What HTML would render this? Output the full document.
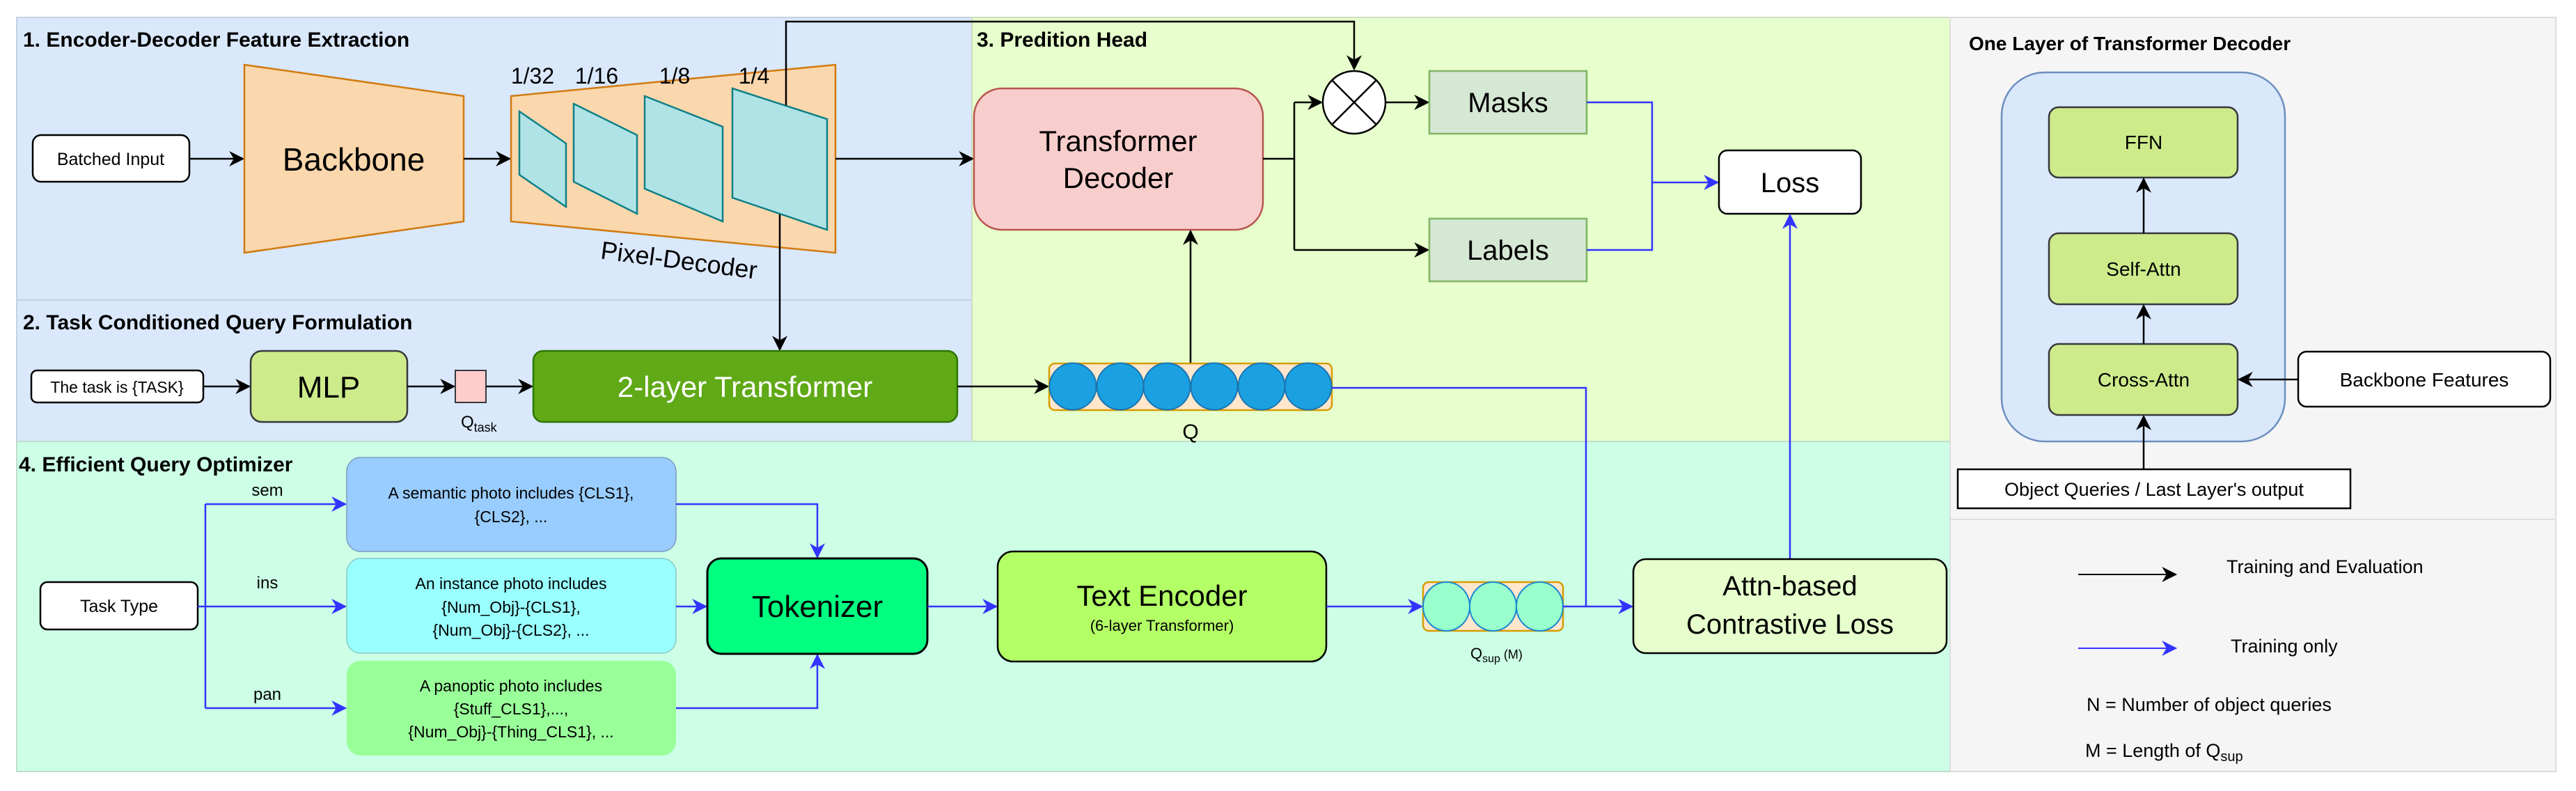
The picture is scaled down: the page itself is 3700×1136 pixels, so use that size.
<!DOCTYPE html>
<html><head><meta charset="utf-8"><style>
html,body{margin:0;padding:0;background:#fff;}
svg{display:block;}
text{font-family:"Liberation Sans",Arial,sans-serif;}
</style></head><body>
<svg width="3700" height="1136" viewBox="0 0 3700 1136" xmlns="http://www.w3.org/2000/svg">
<defs>
<marker id="ab" viewBox="0 0 10 10" refX="9" refY="5" markerWidth="22" markerHeight="22" markerUnits="userSpaceOnUse" orient="auto"><path d="M0,0 L10,5 L0,10 L3,5 z" fill="#000"/></marker>
<marker id="au" viewBox="0 0 10 10" refX="9" refY="5" markerWidth="22" markerHeight="22" markerUnits="userSpaceOnUse" orient="auto"><path d="M0,0 L10,5 L0,10 L3,5 z" fill="#3333ff"/></marker>
</defs>
<!-- panels -->
<rect x="24" y="25" width="1372" height="406" fill="#dae8fc" stroke="#c4d2e4" stroke-width="2"/>
<rect x="24" y="431" width="1372" height="203" fill="#dae8fc" stroke="#c4d2e4" stroke-width="2"/>
<rect x="1396" y="25" width="1405" height="609" fill="#e6ffcc" stroke="#d0dcc0" stroke-width="2"/>
<rect x="24" y="634" width="2777" height="474" fill="#ccffe6" stroke="#c0dcd0" stroke-width="2"/>
<rect x="2801" y="25" width="870" height="721" fill="#f5f5f5" stroke="#dddddd" stroke-width="2"/>
<rect x="2801" y="746" width="870" height="362" fill="#f5f5f5" stroke="#dddddd" stroke-width="2"/>

<!-- titles -->
<g font-weight="bold" font-size="30" fill="#000">
<text x="33" y="67">1. Encoder-Decoder Feature Extraction</text>
<text x="33" y="473">2. Task Conditioned Query Formulation</text>
<text x="1403" y="67">3. Predition Head</text>
<text x="27" y="677">4. Efficient Query Optimizer</text>
<text x="2828" y="72" font-size="28">One Layer of Transformer Decoder</text>
</g>

<!-- Section 1 -->
<rect x="47" y="194" width="225" height="67" rx="12" fill="#fff" stroke="#000" stroke-width="2.5"/>
<text x="159" y="237" font-size="25" text-anchor="middle">Batched Input</text>
<line x1="272" y1="228" x2="349" y2="228" stroke="#000" stroke-width="2.5" marker-end="url(#ab)"/>
<polygon points="351,93 666,138 666,318 351,363" fill="#fad7ac" stroke="#d07a10" stroke-width="2.5"/>
<text x="508" y="245" font-size="46" text-anchor="middle">Backbone</text>
<line x1="666" y1="228" x2="732" y2="228" stroke="#000" stroke-width="2.5" marker-end="url(#ab)"/>
<polygon points="734,138 1200,93 1200,363 734,318" fill="#fad7ac" stroke="#d07a10" stroke-width="2.5"/>
<g fill="#b0e3e6" stroke="#0e8088" stroke-width="2.5">
<polygon points="746,160 813,206 813,297 746,251"/>
<polygon points="824,149 915,194 915,307 824,261"/>
<polygon points="926,138 1038,182 1038,318 926,271"/>
<polygon points="1052,127 1188,171 1188,330 1052,284"/>
</g>
<g font-size="32" text-anchor="middle">
<text x="765" y="120">1/32</text>
<text x="857" y="120">1/16</text>
<text x="969" y="120">1/8</text>
<text x="1083" y="120">1/4</text>
</g>
<text x="975" y="386" font-size="36" text-anchor="middle" transform="rotate(7.5 975 376)">Pixel-Decoder</text>
<polyline points="1129,151 1129,31 1945,31 1945,99" fill="none" stroke="#000" stroke-width="2.5" marker-end="url(#ab)"/>
<line x1="1120" y1="308" x2="1120" y2="502" stroke="#000" stroke-width="2.5" marker-end="url(#ab)"/>
<line x1="1200" y1="228" x2="1397" y2="228" stroke="#000" stroke-width="2.5" marker-end="url(#ab)"/>

<!-- Section 2 -->
<rect x="45" y="532" width="247" height="46" rx="8" fill="#fff" stroke="#000" stroke-width="2.5"/>
<text x="168" y="564" font-size="23" text-anchor="middle">The task is {TASK}</text>
<line x1="292" y1="555" x2="358" y2="555" stroke="#000" stroke-width="2.5" marker-end="url(#ab)"/>
<rect x="360" y="504" width="225" height="102" rx="16" fill="#cdeb8b" stroke="#36393d" stroke-width="2.5"/>
<text x="472" y="571" font-size="44" text-anchor="middle">MLP</text>
<line x1="585" y1="555" x2="652" y2="555" stroke="#000" stroke-width="2.5" marker-end="url(#ab)"/>
<rect x="654" y="532" width="44" height="46" fill="#ffcccc" stroke="#36393d" stroke-width="2"/>
<text x="662" y="614" font-size="24">Q<tspan font-size="18" dy="6">task</tspan></text>
<line x1="698" y1="555" x2="764" y2="555" stroke="#000" stroke-width="2.5" marker-end="url(#ab)"/>
<rect x="766" y="504" width="609" height="102" rx="14" fill="#60a917" stroke="#2d7600" stroke-width="2.5"/>
<text x="1070" y="570" font-size="42" fill="#fff" text-anchor="middle">2-layer Transformer</text>
<line x1="1375" y1="555" x2="1505" y2="555" stroke="#000" stroke-width="2.5" marker-end="url(#ab)"/>

<!-- Section 3 -->
<rect x="1399" y="127" width="415" height="203" rx="40" fill="#f8cecc" stroke="#b85450" stroke-width="2.5"/>
<text x="1606" y="217" font-size="42" text-anchor="middle">Transformer</text>
<text x="1606" y="270" font-size="42" text-anchor="middle">Decoder</text>
<polyline points="1814,228 1859,228" fill="none" stroke="#000" stroke-width="2.5"/>
<polyline points="1859,147 1859,359" fill="none" stroke="#000" stroke-width="2.5"/>
<line x1="1859" y1="147" x2="1898" y2="147" stroke="#000" stroke-width="2.5" marker-end="url(#ab)"/>
<line x1="1859" y1="359" x2="2051" y2="359" stroke="#000" stroke-width="2.5" marker-end="url(#ab)"/>
<circle cx="1945" cy="147" r="45" fill="#fff" stroke="#000" stroke-width="2.5"/>
<line x1="1913" y1="115" x2="1977" y2="179" stroke="#000" stroke-width="2.5"/>
<line x1="1977" y1="115" x2="1913" y2="179" stroke="#000" stroke-width="2.5"/>
<line x1="1990" y1="147" x2="2051" y2="147" stroke="#000" stroke-width="2.5" marker-end="url(#ab)"/>
<rect x="2053" y="102" width="226" height="90" fill="#d5e8d4" stroke="#82b366" stroke-width="2.5"/>
<text x="2166" y="161" font-size="40" text-anchor="middle">Masks</text>
<rect x="2053" y="314" width="226" height="90" fill="#d5e8d4" stroke="#82b366" stroke-width="2.5"/>
<text x="2166" y="373" font-size="40" text-anchor="middle">Labels</text>
<polyline points="2279,147 2373,147 2373,359 2279,359" fill="none" stroke="#3333ff" stroke-width="2.5"/>
<line x1="2373" y1="262" x2="2467" y2="262" stroke="#3333ff" stroke-width="2.5" marker-end="url(#au)"/>
<rect x="2469" y="216" width="204" height="91" rx="12" fill="#fff" stroke="#000" stroke-width="2.5"/>
<text x="2571" y="276" font-size="40" text-anchor="middle">Loss</text>
<line x1="2571" y1="803" x2="2571" y2="309" stroke="#3333ff" stroke-width="2.5" marker-end="url(#au)"/>
<line x1="1710" y1="522" x2="1710" y2="332" stroke="#000" stroke-width="2.5" marker-end="url(#ab)"/>
<rect x="1507" y="522" width="406" height="67" rx="8" fill="#ffe6cc" stroke="#d79b00" stroke-width="2.5"/>
<g fill="#1ba1e2" stroke="#1a74b0" stroke-width="2">
<circle cx="1541" cy="555" r="33.5"/><circle cx="1609" cy="555" r="33.5"/><circle cx="1676" cy="555" r="33.5"/>
<circle cx="1744" cy="555" r="33.5"/><circle cx="1812" cy="555" r="33.5"/><circle cx="1879" cy="555" r="33.5"/>
</g>
<text x="1710" y="630" font-size="30" text-anchor="middle">Q</text>
<polyline points="1913,557 2278,557 2278,871" fill="none" stroke="#3333ff" stroke-width="2.5"/>

<!-- Section 4 -->
<rect x="58" y="836" width="226" height="68" rx="10" fill="#fff" stroke="#000" stroke-width="2.5"/>
<text x="171" y="879" font-size="25" text-anchor="middle">Task Type</text>
<line x1="284" y1="871" x2="496" y2="871" stroke="#3333ff" stroke-width="2.5" marker-end="url(#au)"/>
<polyline points="295,1017 295,724" fill="none" stroke="#3333ff" stroke-width="2.5"/>
<line x1="295" y1="724" x2="496" y2="724" stroke="#3333ff" stroke-width="2.5" marker-end="url(#au)"/>
<line x1="295" y1="1017" x2="496" y2="1017" stroke="#3333ff" stroke-width="2.5" marker-end="url(#au)"/>
<g font-size="24" text-anchor="middle">
<text x="384" y="712">sem</text>
<text x="384" y="845">ins</text>
<text x="384" y="1005">pan</text>
</g>
<rect x="498" y="657" width="473" height="135" rx="20" fill="#99ccff" stroke="#7a9cc0" stroke-width="1.5"/>
<rect x="498" y="802" width="473" height="136" rx="20" fill="#99ffff" stroke="#88c8c8" stroke-width="1.5"/>
<rect x="498" y="949" width="473" height="136" rx="20" fill="#99ff99"/>
<g font-size="23" text-anchor="middle">
<text x="734" y="716">A semantic photo includes {CLS1},</text>
<text x="734" y="750">{CLS2}, ...</text>
<text x="734" y="846">An instance photo includes</text>
<text x="734" y="880">{Num_Obj}-{CLS1},</text>
<text x="734" y="913">{Num_Obj}-{CLS2}, ...</text>
<text x="734" y="993">A panoptic photo includes</text>
<text x="734" y="1026">{Stuff_CLS1},...,</text>
<text x="734" y="1059">{Num_Obj}-{Thing_CLS1}, ...</text>
</g>
<polyline points="971,724 1174,724 1174,800" fill="none" stroke="#3333ff" stroke-width="2.5" marker-end="url(#au)"/>
<polyline points="971,1017 1174,1017 1174,941" fill="none" stroke="#3333ff" stroke-width="2.5" marker-end="url(#au)"/>
<line x1="971" y1="871" x2="1014" y2="871" stroke="#3333ff" stroke-width="2.5" marker-end="url(#au)"/>
<rect x="1016" y="802" width="316" height="137" rx="20" fill="#00ff80" stroke="#000" stroke-width="3"/>
<text x="1174" y="886" font-size="44" text-anchor="middle">Tokenizer</text>
<line x1="1332" y1="871" x2="1431" y2="871" stroke="#3333ff" stroke-width="2.5" marker-end="url(#au)"/>
<rect x="1433" y="792" width="472" height="158" rx="22" fill="#b3ff66" stroke="#000" stroke-width="2.5"/>
<text x="1669" y="870" font-size="42" text-anchor="middle">Text Encoder</text>
<text x="1669" y="906" font-size="22" text-anchor="middle">(6-layer Transformer)</text>
<line x1="1905" y1="871" x2="2042" y2="871" stroke="#3333ff" stroke-width="2.5" marker-end="url(#au)"/>
<rect x="2044" y="836" width="201" height="70" rx="8" fill="#ffe6cc" stroke="#d79b00" stroke-width="2.5"/>
<g fill="#99ffcc" stroke="#1a8ad0" stroke-width="2">
<ellipse cx="2077.5" cy="871" rx="33.5" ry="35"/><ellipse cx="2144.5" cy="871" rx="33.5" ry="35"/><ellipse cx="2211.5" cy="871" rx="33.5" ry="35"/>
</g>
<text x="2112" y="946" font-size="22">Q<tspan font-size="16" dy="5">sup</tspan><tspan font-size="18" dy="-5"> (M)</tspan></text>
<line x1="2245" y1="871" x2="2344" y2="871" stroke="#3333ff" stroke-width="2.5" marker-end="url(#au)"/>
<rect x="2346" y="803" width="450" height="135" rx="18" fill="#e6ffcc" stroke="#000" stroke-width="2.5"/>
<text x="2571" y="855" font-size="40" text-anchor="middle">Attn-based</text>
<text x="2571" y="910" font-size="40" text-anchor="middle">Contrastive Loss</text>

<!-- Right panel -->
<rect x="2875" y="104" width="407" height="530" rx="62" fill="#dae8fc" stroke="#6c8ebf" stroke-width="2.5"/>
<rect x="2943" y="154" width="271" height="101" rx="14" fill="#cdeb8b" stroke="#36393d" stroke-width="2.5"/>
<rect x="2943" y="335" width="271" height="102" rx="14" fill="#cdeb8b" stroke="#36393d" stroke-width="2.5"/>
<rect x="2943" y="494" width="271" height="102" rx="14" fill="#cdeb8b" stroke="#36393d" stroke-width="2.5"/>
<rect x="3301" y="505" width="362" height="79" rx="12" fill="#fff" stroke="#000" stroke-width="2.5"/>
<g font-size="28" text-anchor="middle">
<text x="3079" y="214">FFN</text>
<text x="3079" y="396">Self-Attn</text>
<text x="3079" y="555">Cross-Attn</text>
<text x="3482" y="555">Backbone Features</text>
</g>
<line x1="3079" y1="335" x2="3079" y2="257" stroke="#000" stroke-width="2.5" marker-end="url(#ab)"/>
<line x1="3079" y1="494" x2="3079" y2="439" stroke="#000" stroke-width="2.5" marker-end="url(#ab)"/>
<line x1="3079" y1="674" x2="3079" y2="598" stroke="#000" stroke-width="2.5" marker-end="url(#ab)"/>
<line x1="3301" y1="545" x2="3216" y2="545" stroke="#000" stroke-width="2.5" marker-end="url(#ab)"/>
<rect x="2812" y="674" width="564" height="56" fill="#fff" stroke="#000" stroke-width="2.5"/>
<text x="3094" y="712" font-size="27" text-anchor="middle">Object Queries / Last Layer's output</text>
<line x1="2985" y1="825" x2="3125" y2="825" stroke="#000" stroke-width="2" marker-end="url(#ab)"/>
<text x="3198" y="823" font-size="27">Training and Evaluation</text>
<line x1="2985" y1="931" x2="3125" y2="931" stroke="#3333ff" stroke-width="2" marker-end="url(#au)"/>
<text x="3204" y="937" font-size="27">Training only</text>
<text x="2997" y="1021" font-size="27">N = Number of object queries</text>
<text x="2995" y="1087" font-size="27">M = Length of Q<tspan font-size="20" dy="6">sup</tspan></text>
</svg>
</body></html>
